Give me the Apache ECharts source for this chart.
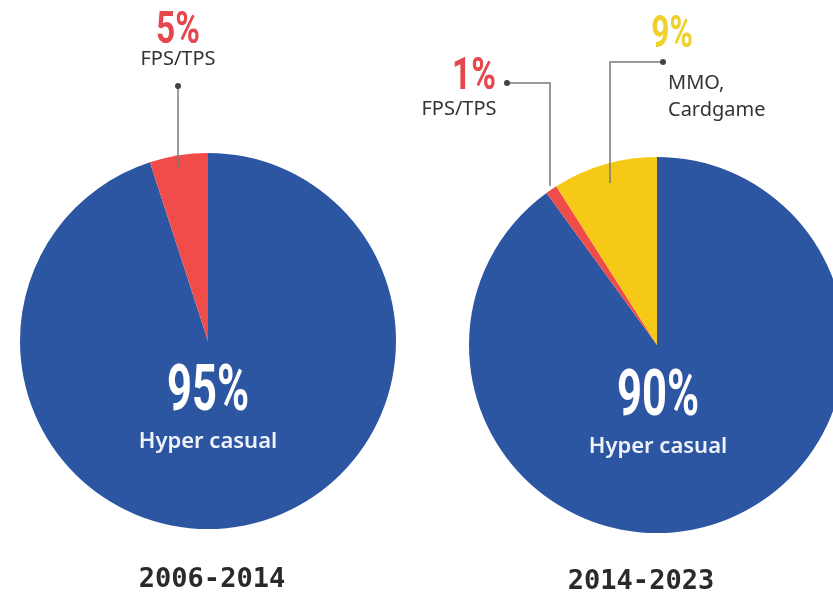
<!DOCTYPE html>
<html>
<head>
<meta charset="utf-8">
<script src="https://cdn.jsdelivr.net/npm/echarts@6/dist/echarts.min.js"></script>
<style>
  html, body { margin: 0; padding: 0; background: #fff; }
  #chart { width: 833px; height: 597px; }
</style>
</head>
<body>
<div id="chart"></div>
<script>
// data
const periods = ['2006-2014', '2014-2023'];
const leftNames = ['Hyper casual', 'FPS/TPS'];
const leftValues = [95, 5];
const rightNames = ['Hyper casual', 'FPS/TPS', 'MMO,\nCardgame'];
const rightValues = [90, 1, 9];

const BLUE = '#2c55a2';
const RED = '#ef4c4a';
const YELLOW = '#f6c916';
const NUM_FONT = '"Roboto", "DejaVu Sans", sans-serif';
const LABEL_FONT = '"Noto Sans", sans-serif';

function pieSeries (names, values, colors, center) {
  return {
    type: 'pie',
    center: center,
    radius: [0, 188],
    startAngle: 90,
    clockwise: true,
    label: { show: false },
    labelLine: { show: false },
    silent: true,
    itemStyle: { borderWidth: 0 },
    data: values.map(function (v, i) {
      return { value: v, name: names[i], itemStyle: { color: colors[i] } };
    })
  };
}

// condensed looking numbers: squeeze the glyphs horizontally
function num (x, y, text, color, size, sx) {
  return {
    type: 'text', x: x, y: y, z: 100, scaleX: sx || 0.68,
    style: { text: text, fill: color, font: 'bold ' + size + 'px ' + NUM_FONT, textAlign: 'center' }
  };
}

function label (x, y, text, color, size, align, weight) {
  return {
    type: 'text', x: x, y: y, z: 100,
    style: { text: text, fill: color, font: (weight || 'normal') + ' ' + size + 'px ' + LABEL_FONT, textAlign: align || 'center', lineHeight: 27 }
  };
}

function leader (points) {
  return [
    { type: 'polyline', z: 100, shape: { points: points }, style: { stroke: '#7a7a7a', lineWidth: 1.5, fill: null } },
    { type: 'circle', z: 100, shape: { cx: points[0][0], cy: points[0][1], r: 3 }, style: { fill: '#444' } }
  ];
}

const chart = echarts.init(document.getElementById('chart'));

const graphics = [];
// left pie
graphics.push(num(178, 10, leftValues[1] + '%', '#e5474f', 44, 0.76));
graphics.push(label(178, 46, leftNames[1], '#333', 20));
graphics.push.apply(graphics, leader([[178, 86], [178, 168]]));
graphics.push(num(208, 362, leftValues[0] + '%', '#ffffff', 64));
graphics.push(label(208, 428, leftNames[0], '#eef2fa', 22, 'center', 600));

// right pie
graphics.push(num(474, 56, rightValues[1] + '%', '#e5474f', 44, 0.76));
graphics.push(label(459, 96, rightNames[1], '#333', 20));
graphics.push.apply(graphics, leader([[507, 83], [550, 83], [550, 186]]));
graphics.push(num(672, 14, rightValues[2] + '%', '#f0d02a', 44, 0.72));
graphics.push(label(668, 70, rightNames[2], '#333', 20, 'left'));
graphics.push.apply(graphics, leader([[663, 62], [610, 62], [610, 183]]));
graphics.push(num(658, 367, rightValues[0] + '%', '#ffffff', 64));
graphics.push(label(658, 433, rightNames[0], '#eef2fa', 22, 'center', 600));

// period captions
graphics.push({ type: 'text', x: 212, y: 566, z: 100, style: { text: periods[0], fill: '#2a2a2a', font: 'bold 27px "DejaVu Sans Mono", monospace', textAlign: 'center' } });
graphics.push({ type: 'text', x: 641, y: 568, z: 100, style: { text: periods[1], fill: '#2a2a2a', font: 'bold 27px "DejaVu Sans Mono", monospace', textAlign: 'center' } });

chart.setOption({
  animation: false,
  backgroundColor: '#ffffff',
  series: [
    pieSeries(leftNames, leftValues, [BLUE, RED], [208, 341]),
    pieSeries(rightNames, rightValues, [BLUE, RED, YELLOW], [657, 345])
  ],
  graphic: graphics
});
</script>
</body>
</html>
